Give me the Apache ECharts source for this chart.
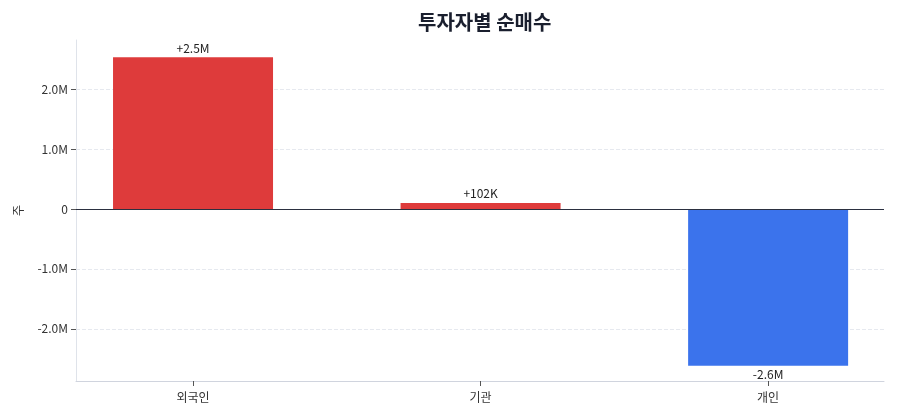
<!DOCTYPE html>
<html>
<head>
<meta charset="utf-8">
<script src="https://cdn.jsdelivr.net/npm/echarts@6/dist/echarts.min.js"></script>
<style>
  html, body { margin: 0; padding: 0; background: #fff; }
  #chart { width: 900px; height: 420px; }
</style>
</head>
<body>
<div id="chart"></div>
<script>
// 투자자별 순매수 데이터
var investors = ['외국인', '기관', '개인'];
var netBuy = [2533000, 102000, -2617000];
var tickValues = [-2000000, -1000000, 0, 1000000, 2000000];

var FONT = '"Noto Sans CJK KR", "Noto Sans", sans-serif';

function fmtAxis(v) {
  if (v === 0) return '0';
  return (v / 1e6).toFixed(1) + 'M';
}

function fmtLabel(v) {
  var sign = v > 0 ? '+' : '-';
  var a = Math.abs(v);
  if (a >= 1e6) return sign + (a / 1e6).toFixed(1) + 'M';
  if (a >= 1e3) return sign + Math.round(a / 1e3) + 'K';
  return sign + a;
}

var chart = echarts.init(document.getElementById('chart'));

// x축은 카테고리 인덱스(0,1,2)를 값 축으로 그려서 양쪽 여백을 맞춘다
var option = {
  textStyle: { fontFamily: FONT },
  title: {
    text: '투자자별 순매수',
    left: 413,
    top: 7,
    textStyle: { fontSize: 20, fontWeight: 'bold', color: '#1a1f2e', fontFamily: FONT }
  },
  grid: { left: 76, right: 16, top: 40, bottom: 39 },
  xAxis: {
    type: 'value',
    min: -0.407,
    max: 2.403,
    axisLine: { show: true, onZero: false, lineStyle: { color: '#d0d4de' } },
    axisTick: { show: true, customValues: [0, 1, 2], lineStyle: { color: '#555' } },
    axisLabel: {
      customValues: [0, 1, 2],
      formatter: function (v) { return investors[Math.round(v)]; },
      color: '#333', fontSize: 12, margin: 10
    },
    splitLine: { show: false }
  },
  yAxis: {
    type: 'value',
    name: '주',
    nameLocation: 'middle',
    nameRotate: 90,
    nameGap: 52,
    nameTextStyle: { color: '#333', fontSize: 12 },
    min: -2870000,
    max: 2820000,
    axisLine: { show: true, onZero: false, lineStyle: { color: '#dfe3ea' } },
    axisTick: { show: true, customValues: tickValues, lineStyle: { color: '#555' } },
    axisLabel: { customValues: tickValues, formatter: fmtAxis, color: '#333', fontSize: 12 },
    splitLine: { show: true, lineStyle: { color: '#e6e9ef', type: 'dashed' } }
  },
  series: [{
    type: 'bar',
    barWidth: 160,
    data: netBuy.map(function (v, i) {
      return {
        value: [i, v],
        itemStyle: { color: v >= 0 ? '#de3b3b' : '#3b73ec' },
        label: {
          show: true,
          position: v >= 0 ? 'top' : 'bottom',
          distance: 3,
          formatter: fmtLabel(v),
          color: '#222',
          fontSize: 12
        }
      };
    }),
    markLine: {
      silent: true,
      symbol: 'none',
      label: { show: false },
      lineStyle: { color: '#2b3040', type: 'solid', width: 1.2 },
      data: [{ yAxis: 0 }]
    }
  }]
};

chart.setOption(option);
</script>
</body>
</html>
